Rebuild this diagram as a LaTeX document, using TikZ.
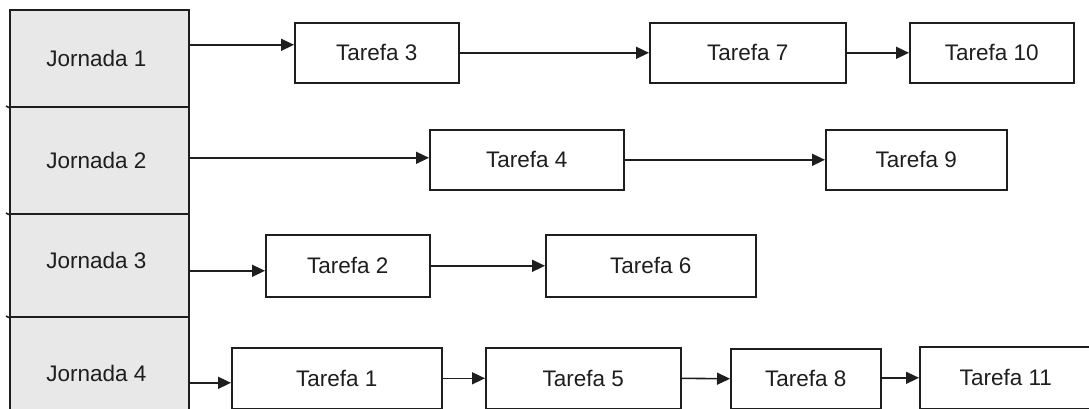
\documentclass[tikz,border=0pt]{standalone}
\usepackage{fontspec}
\setmainfont{Liberation Sans}
\usetikzlibrary{arrows.meta}
\definecolor{cellfill}{RGB}{232,232,232}
\definecolor{ink}{RGB}{30,30,30}
\begin{document}
\begin{tikzpicture}[x=1pt,y=-1pt,
  line width=1.6pt, draw=ink,
  labelfont/.style={font=\fontsize{22.5}{25}\selectfont, text=ink},
  cell/.style={draw=ink, fill=cellfill, anchor=north west, inner sep=0pt, minimum width=179pt},
  task/.style={draw=ink, fill=white, anchor=north west, inner sep=0pt, labelfont},
  arr/.style={ink, -{Triangle[length=13pt,width=12pt]}}
]
\useasboundingbox (0,0) rectangle (1089,409);
\clip (0,0) rectangle (1089,409);

% left column: one cell per day
\node[cell, minimum height=97pt,
      label={[labelfont, xshift=-3pt]center:Jornada 1}] (j1) at (9,9) {};
\node[cell, minimum height=107pt,
      label={[labelfont, xshift=-3pt]center:Jornada 2}] (j2) at (9,106) {};
\node[cell, minimum height=103pt,
      label={[labelfont, xshift=-3pt, yshift=5pt]center:Jornada 3}] (j3) at (9,213) {};
\node[cell, minimum height=110pt,
      label={[labelfont, xshift=-3pt, yshift=-2pt]center:Jornada 4}] (j4) at (9,316) {};
\draw[ink] (6,106) -- (j1.south west);
\draw[ink] (6,213) -- (j2.south west);
\draw[ink] (6,316) -- (j3.south west);

% tasks, row 1
\node[task, minimum width=164pt, minimum height=60pt] (t3)  at (294,22) {Tarefa 3};
\node[task, minimum width=196pt, minimum height=60pt] (t7)  at (649,22) {Tarefa 7};
\node[task, minimum width=164pt, minimum height=60pt] (t10) at (909,22) {Tarefa 10};
% row 2
\node[task, minimum width=194pt, minimum height=60pt] (t4)  at (429,129) {Tarefa 4};
\node[task, minimum width=181pt, minimum height=60pt] (t9)  at (825,129) {Tarefa 9};
% row 3
\node[task, minimum width=164pt, minimum height=62pt] (t2)  at (265,234) {Tarefa 2};
\node[task, minimum width=210pt, minimum height=62pt] (t6)  at (545,234) {Tarefa 6};
% row 4
\node[task, minimum width=210pt, minimum height=61pt] (t1)  at (231,347) {Tarefa 1};
\node[task, minimum width=195pt, minimum height=61pt] (t5)  at (485,347) {Tarefa 5};
\node[task, minimum width=150pt, minimum height=60pt] (t8)  at (730,348) {Tarefa 8};
\node[task, minimum width=172pt, minimum height=62pt] (t11) at (919,346) {Tarefa 11};

% connectors
\draw[arr] ([yshift=8pt]t3.west -| j1.east) -- ([yshift=8pt]t3.west);
\draw[arr] (t3) -- (t7);
\draw[arr] (t7) -- (t10);

\draw[arr] ([yshift=2pt]t4.west -| j2.east) -- ([yshift=2pt]t4.west);
\draw[arr] (t4) -- (t9);

\draw[arr] ([yshift=-5pt]t2.west -| j3.east) -- ([yshift=-5pt]t2.west);
\draw[arr] (t2) -- (t6);

\draw[arr] ([yshift=-4.5pt,xshift=-2pt]t1.west -| j4.east) -- ([yshift=-4.5pt]t1.west);
\draw[arr] (t1) -- (t5);
\draw[arr] (t5.east) -- (t8.west);
\draw[arr] (t8.east) -- (t11.west -| t8.east) -- (t11.west);
\end{tikzpicture}
\end{document}
